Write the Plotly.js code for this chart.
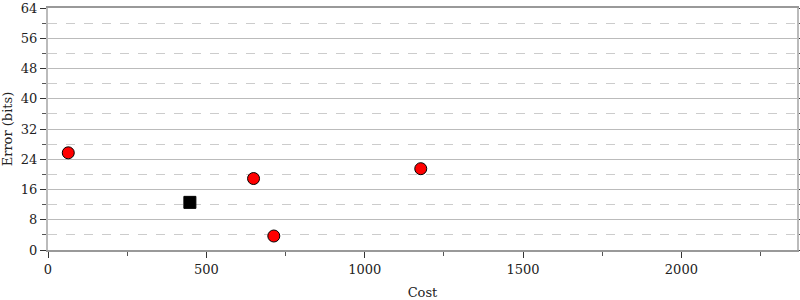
<!DOCTYPE html>
<html><head><meta charset="utf-8">
<script src="https://cdn.plot.ly/plotly-3.0.1.min.js"></script>
<style>body{margin:0;}#c{width:800px;height:300px;}</style>
</head><body><div id="c"></div>
<script>
const otherCost = [64, 649, 713, 1177];
const otherError = [25.7, 18.9, 3.7, 21.5];
const bestCost = [448];
const bestError = [12.6];

const font = {family: 'DejaVu Serif, serif', size: 13, color: '#222'};
const traces = [
  {x: otherCost, y: otherError, mode: 'markers', type: 'scatter',
   marker: {symbol: 'circle', size: 12, color: '#ff0000', line: {color: '#000', width: 1}}},
  {x: bestCost, y: bestError, mode: 'markers', type: 'scatter',
   marker: {symbol: 'square', size: 12, color: '#000', line: {color: '#000', width: 1}}}
];
const layout = {
  width: 800, height: 300,
  margin: {l: 48, r: 3, t: 8, b: 50},
  showlegend: false,
  paper_bgcolor: '#fff', plot_bgcolor: '#fff',
  font: font,
  xaxis: {
    range: [0, 2365], tickvals: [0, 500, 1000, 1500, 2000], ticktext: ['0','500','1000','1500','2000'],
    showgrid: false, zeroline: false,
    showline: true, linecolor: '#999', linewidth: 2, mirror: true,
    ticks: 'outside', ticklen: 6, tickcolor: '#333', tickwidth: 1,
    minor: {tickvals: [250, 750, 1250, 1750, 2250], ticks: 'outside', ticklen: 4, tickcolor: '#555', showgrid: false},
    title: {text: 'Cost', font: font, standoff: 14}
  },
  yaxis: {
    range: [0, 64], tickvals: [0, 8, 16, 24, 32, 40, 48, 56, 64],
    showgrid: true, gridcolor: '#bbb', gridwidth: 1, zeroline: false,
    showline: true, linecolor: '#bbb', linewidth: 2, mirror: 'ticks',
    ticks: 'outside', ticklen: 6, tickcolor: '#333', tickwidth: 1,
    minor: {tickvals: [4, 12, 20, 28, 36, 44, 52, 60], ticks: 'outside', ticklen: 4, tickcolor: '#555',
            showgrid: true, gridcolor: '#ccc', griddash: 'dash', gridwidth: 1},
    title: {text: 'Error (bits)', font: font, standoff: 8}
  }
};
Plotly.newPlot('c', traces, layout, {staticPlot: true});
</script></body></html>
